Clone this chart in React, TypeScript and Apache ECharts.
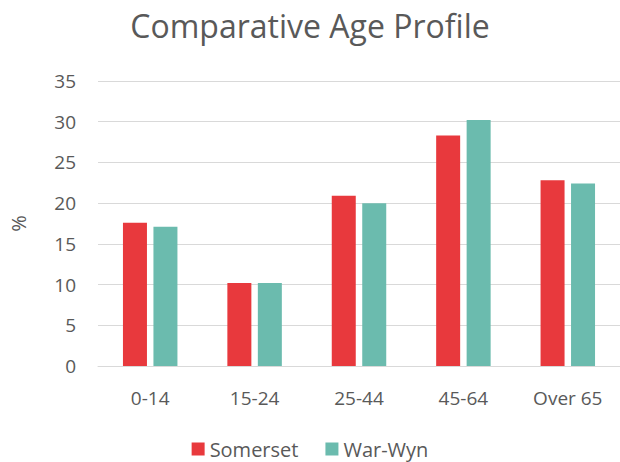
import React, { useEffect, useRef } from "react";
import * as echarts from "echarts";

const categories = ["0-14", "15-24", "25-44", "45-64", "Over 65"];
const somerset = [17.6, 10.2, 20.9, 28.3, 22.8];
const warWyn = [17.1, 10.2, 20.0, 30.2, 22.4];
const seriesNames = ["Somerset", "War-Wyn"];

const FONT = "'Open Sans', 'Noto Sans', sans-serif";
const TEXT = "#595959";

export default function App() {
  const ref = useRef<HTMLDivElement>(null);
  useEffect(() => {
    document.body.style.margin = "0";
    document.body.style.overflow = "hidden";
    const chart = echarts.init(ref.current!, undefined, { renderer: "svg" });
    chart.setOption({
      animation: false,
      backgroundColor: "#ffffff",
      title: {
        text: "Comparative Age Profile",
        left: "center",
        top: 4,
        textStyle: { fontFamily: FONT, fontSize: 32, fontWeight: "normal", color: TEXT },
      },
      legend: {
        top: 434,
        left: "center",
        itemWidth: 13,
        itemHeight: 13,
        itemGap: 27,
        icon: "rect",
        textStyle: { fontFamily: FONT, fontSize: 20, color: TEXT },
        data: seriesNames,
      },
      grid: { left: 87, right: 0, top: 81, bottom: 96, containLabel: false },
      xAxis: {
        type: "category",
        data: categories,
        axisLine: { lineStyle: { color: "#d9d9d9" } },
        axisTick: { show: false },
        axisLabel: { fontFamily: FONT, fontSize: 19, color: TEXT, margin: 22 },
      },
      yAxis: {
        type: "value",
        min: 0,
        max: 35,
        interval: 5,
        name: "%",
        nameLocation: "middle",
        nameGap: 70,
        nameRotate: 90,
        nameTextStyle: { fontFamily: FONT, fontSize: 20, color: TEXT },
        axisLine: { show: false },
        axisTick: { show: false },
        axisLabel: { fontFamily: FONT, fontSize: 19, color: TEXT, margin: 22 },
        splitLine: { lineStyle: { color: "#d9d9d9", width: 1 } },
      },
      series: [
        {
          name: seriesNames[0],
          type: "bar",
          data: somerset,
          barWidth: 24,
          barGap: "27%",
          itemStyle: { color: "#E8393D" },
        },
        {
          name: seriesNames[1],
          type: "bar",
          data: warWyn,
          barWidth: 24,
          itemStyle: { color: "#6BBBAE" },
        },
      ],
    });
    return () => chart.dispose();
  }, []);
  return <div ref={ref} style={{ width: 620, height: 462 }} />;
}
